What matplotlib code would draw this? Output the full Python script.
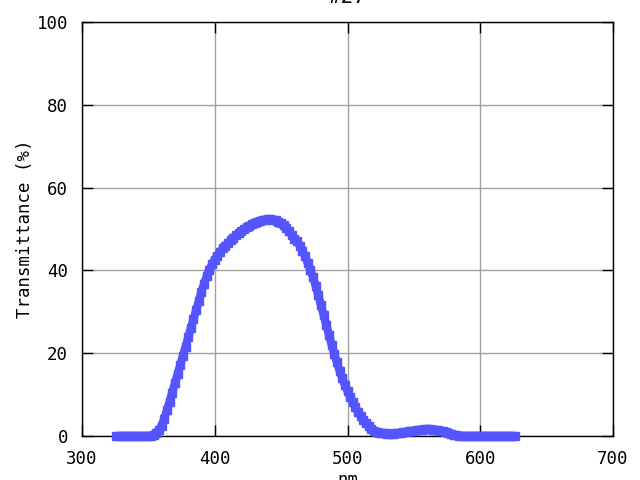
import matplotlib
matplotlib.use('Agg')
import matplotlib.pyplot as plt

# wavelength (nm) and transmittance (%)
wavelength = list(range(326, 627, 2))
transmittance = [
    0, 0, 0, 0, 0, 0, 0, 0, 0, 0, 0, 0, 0,            # 326-350
    0.1, 0.3, 0.8, 1.5,                                # 352-358
    2.5, 4.2, 6.2, 8.3, 10.5, 12.7, 14.9, 17.1, 19.3, 21.5,   # 360-378
    23.8, 26.0, 28.2, 30.4, 32.6, 34.8, 36.8, 38.6, 40.2, 41.5,   # 380-398
    42.6, 43.6, 44.5, 45.3, 46.0, 46.7, 47.3, 47.9, 48.5, 49.0,   # 400-418
    49.5, 50.0, 50.4, 50.8, 51.2, 51.5, 51.8, 52.0, 52.2, 52.3,   # 420-438
    52.4, 52.4, 52.3, 52.1, 51.8, 51.5, 51.0, 50.3, 49.5, 48.5,   # 440-458
    47.7, 47.0, 46.0, 44.8, 43.4, 41.8, 40.2, 38.4, 36.3, 34.0,   # 460-478
    31.6, 29.2, 26.8, 24.4, 22.1, 19.9, 17.8, 15.8, 14.0, 12.3,   # 480-498
    10.8, 9.4, 8.1, 6.9, 5.8, 4.8, 3.9, 3.1, 2.4, 1.8,            # 500-518
    1.3, 1.0, 0.8, 0.7, 0.65, 0.6, 0.6, 0.6, 0.65, 0.7,           # 520-538
    0.8, 0.9, 1.0, 1.1, 1.2, 1.3, 1.4, 1.5, 1.55, 1.6,            # 540-558
    1.6, 1.6, 1.55, 1.5, 1.4, 1.25, 1.1, 0.9, 0.7, 0.5,           # 560-578
    0.35, 0.2, 0.1, 0.05, 0, 0, 0, 0, 0, 0,                       # 580-598
    0, 0, 0, 0, 0, 0, 0, 0, 0, 0, 0, 0, 0, 0,                     # 600-626
]

xticks = [300, 400, 500, 600, 700]
yticks = [0, 20, 40, 60, 80, 100]

plt.rcParams['font.family'] = ['DejaVu Sans Mono']
plt.rcParams['font.size'] = 12.5

fig = plt.figure(figsize=(6.4, 4.8), dpi=100)
ax = fig.add_axes([0.128, 0.0917, 0.83, 0.8623])

# thick line under square markers so the dense points read as one band
# (not clipped, gnuplot draws the points across the axis line)
ax.plot(wavelength, transmittance, color='#5555ff', lw=6, solid_capstyle='butt',
        zorder=3, clip_on=False)
ax.plot(wavelength, transmittance, 's', color='#5555ff', ms=6, zorder=3, clip_on=False)

ax.set_xlim(300, 700)
ax.set_ylim(0, 100)
ax.set_xticks(xticks)
ax.set_yticks(yticks)
ax.grid(True, color='#a0a0a0', lw=1)
ax.tick_params(direction='in', length=8, width=1, top=True, right=True, pad=10)
for s in ax.spines.values():
    s.set_linewidth(1)

ax.set_title('#27', pad=14)
ax.set_xlabel('nm', labelpad=2)
ax.set_ylabel('Transmittance (%)', labelpad=2)

fig.savefig('out.png', dpi=100)
